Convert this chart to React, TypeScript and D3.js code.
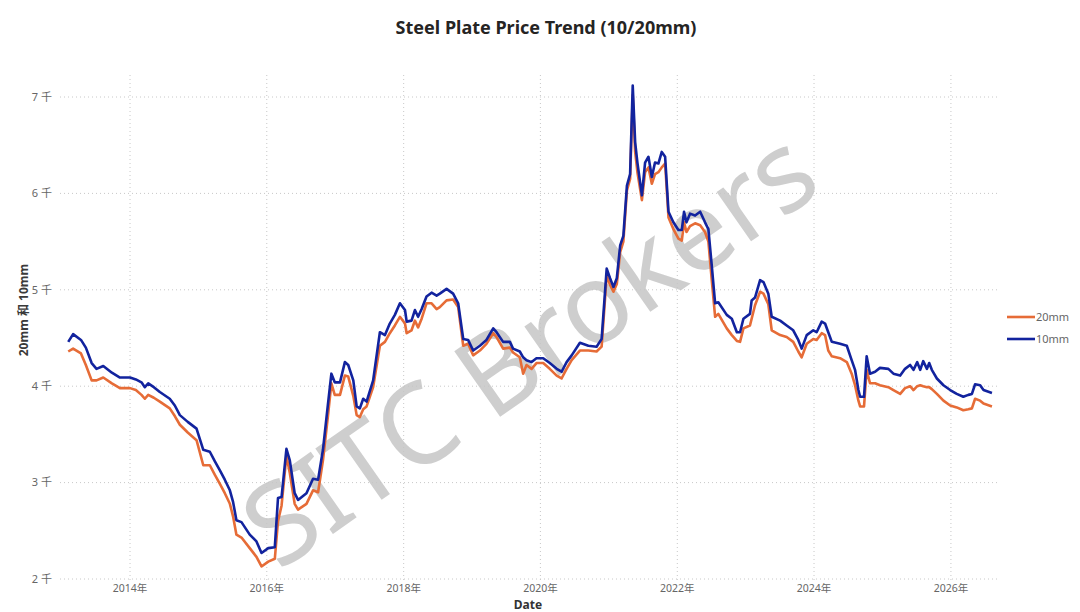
import React, { useRef, useEffect } from 'react';
import * as d3 from 'd3';

const DATES: string[] = [
  '2013-02-05', '2013-03-03', '2013-04-14', '2013-05-10', '2013-06-10', '2013-07-06', '2013-08-11', '2013-09-26', '2013-11-08', '2014-01-01',
  '2014-02-01', '2014-03-03', '2014-03-21', '2014-04-08', '2014-05-08', '2014-06-09', '2014-08-01', '2014-08-28', '2014-09-24', '2014-11-05',
  '2014-12-22', '2015-01-27', '2015-03-03', '2015-03-30', '2015-04-25', '2015-05-22', '2015-06-18', '2015-07-05', '2015-07-23', '2015-08-19',
  '2015-10-02', '2015-11-07', '2015-12-04', '2016-01-09', '2016-02-13', '2016-03-01', '2016-03-20', '2016-04-15', '2016-05-03', '2016-05-29',
  '2016-06-16', '2016-07-31', '2016-09-04', '2016-10-01', '2016-10-27', '2016-11-22', '2016-12-11', '2016-12-29', '2017-01-26', '2017-02-21',
  '2017-03-11', '2017-04-07', '2017-04-25', '2017-05-12', '2017-05-30', '2017-06-17', '2017-07-22', '2017-08-27', '2017-09-23', '2017-10-19',
  '2017-11-15', '2017-12-12', '2018-01-08', '2018-01-17', '2018-02-12', '2018-03-02', '2018-03-19', '2018-04-07', '2018-05-03', '2018-05-30',
  '2018-06-26', '2018-07-13', '2018-08-18', '2018-09-22', '2018-10-19', '2018-11-15', '2018-12-11', '2019-01-07', '2019-02-12', '2019-03-19',
  '2019-04-24', '2019-05-12', '2019-06-16', '2019-07-22', '2019-08-08', '2019-09-13', '2019-10-01', '2019-10-19', '2019-11-15', '2019-12-11',
  '2020-01-16', '2020-02-20', '2020-03-28', '2020-04-23', '2020-05-20', '2020-06-16', '2020-07-30', '2020-09-13', '2020-10-27', '2020-11-23',
  '2020-12-20', '2021-01-07', '2021-01-25', '2021-02-12', '2021-03-02', '2021-03-19', '2021-04-07', '2021-04-24', '2021-05-08', '2021-05-21',
  '2021-06-02', '2021-06-26', '2021-07-13', '2021-07-31', '2021-08-18', '2021-09-04', '2021-09-22', '2021-10-10', '2021-10-28', '2021-11-15',
  '2021-12-11', '2022-01-07', '2022-01-25', '2022-02-06', '2022-02-19', '2022-03-10', '2022-04-06', '2022-05-03', '2022-05-29', '2022-06-16',
  '2022-07-04', '2022-07-22', '2022-08-08', '2022-09-22', '2022-10-19', '2022-11-15', '2022-12-02', '2022-12-20', '2023-01-24', '2023-02-02',
  '2023-02-20', '2023-03-19', '2023-04-06', '2023-05-02', '2023-05-20', '2023-07-04', '2023-08-08', '2023-09-12', '2023-10-09', '2023-10-27',
  '2023-11-23', '2023-12-28', '2024-01-15', '2024-02-11', '2024-02-29', '2024-03-17', '2024-04-05', '2024-05-19', '2024-06-24', '2024-07-20',
  '2024-08-07', '2024-08-25', '2024-09-03', '2024-09-24', '2024-10-08', '2024-10-26', '2024-11-22', '2024-12-18', '2025-02-01', '2025-02-28',
  '2025-04-05', '2025-05-01', '2025-05-28', '2025-06-15', '2025-07-05', '2025-07-21', '2025-08-06', '2025-08-26', '2025-09-07', '2025-09-21',
  '2025-10-18', '2025-11-22', '2025-12-28', '2026-02-01', '2026-03-08', '2026-04-04', '2026-04-23', '2026-05-10', '2026-06-06', '2026-06-24',
  '2026-08-08',
];

const PRICE_20MM: number[] = [
  4360, 4390, 4340, 4220, 4060, 4060, 4090, 4030, 3980, 3980,
  3960, 3910, 3870, 3910, 3880, 3840, 3770, 3690, 3600, 3520,
  3440, 3180, 3180, 3080, 2990, 2890, 2780, 2650, 2460, 2430,
  2320, 2230, 2130, 2180, 2210, 2600, 2760, 3280, 3100, 2780,
  2720, 2780, 2920, 2900, 3230, 3680, 4030, 3910, 3910, 4110,
  4100, 3900, 3700, 3680, 3760, 3790, 3990, 4420, 4460, 4550,
  4630, 4720, 4650, 4550, 4580, 4680, 4610, 4700, 4860, 4860,
  4800, 4820, 4890, 4900, 4820, 4420, 4440, 4320, 4370, 4440,
  4550, 4510, 4390, 4400, 4350, 4300, 4130, 4220, 4180, 4240,
  4240, 4180, 4110, 4080, 4180, 4270, 4370, 4370, 4360, 4410,
  5150, 5050, 4980, 5060, 5390, 5500, 6030, 6150, 7020, 6430,
  6220, 5930, 6220, 6270, 6100, 6200, 6220, 6270, 6310, 5750,
  5630, 5530, 5510, 5700, 5600, 5660, 5690, 5670, 5600, 5500,
  5100, 4720, 4750, 4600, 4530, 4470, 4460, 4600, 4630, 4700,
  4840, 4980, 4960, 4850, 4580, 4530, 4510, 4460, 4360, 4300,
  4440, 4490, 4480, 4550, 4530, 4370, 4310, 4290, 4250, 4130,
  4010, 3850, 3790, 3790, 4170, 4030, 4030, 4010, 3990, 3960,
  3920, 3980, 4000, 3960, 4000, 4010, 4000, 3990, 3990, 3970,
  3920, 3850, 3800, 3780, 3750, 3760, 3770, 3870, 3850, 3820,
  3790,
];

const PRICE_10MM: number[] = [
  4460, 4540, 4480, 4400, 4240, 4180, 4210, 4140, 4090, 4090,
  4070, 4040, 3990, 4030, 3990, 3940, 3870, 3800, 3700, 3630,
  3560, 3340, 3320, 3220, 3130, 3030, 2920, 2800, 2610, 2590,
  2460, 2390, 2270, 2320, 2330, 2840, 2850, 3350, 3230, 2890,
  2820, 2890, 3040, 3030, 3340, 3800, 4130, 4040, 4040, 4250,
  4220, 4060, 3790, 3770, 3870, 3840, 4060, 4560, 4530, 4650,
  4740, 4860, 4790, 4670, 4680, 4790, 4720, 4800, 4930, 4970,
  4940, 4960, 5010, 4960, 4860, 4490, 4480, 4370, 4420, 4480,
  4600, 4560, 4460, 4460, 4390, 4360, 4300, 4270, 4250, 4290,
  4290, 4240, 4180, 4150, 4250, 4320, 4450, 4420, 4410, 4490,
  5220, 5120, 5030, 5120, 5460, 5560, 6080, 6200, 7120, 6530,
  6320, 5980, 6320, 6380, 6170, 6320, 6310, 6430, 6380, 5810,
  5700, 5620, 5620, 5810, 5700, 5790, 5770, 5810, 5700, 5630,
  5250, 4860, 4870, 4740, 4700, 4560, 4560, 4700, 4750, 4890,
  4920, 5100, 5080, 4960, 4720, 4680, 4630, 4580, 4480, 4390,
  4530, 4580, 4560, 4670, 4650, 4560, 4460, 4440, 4420, 4270,
  4170, 3960, 3890, 3890, 4310, 4130, 4150, 4190, 4180, 4130,
  4110, 4180, 4220, 4170, 4250, 4170, 4260, 4180, 4240, 4170,
  4080, 4010, 3960, 3920, 3890, 3910, 3920, 4020, 4010, 3960,
  3930,
];

const SERIES_NAMES = ['20mm', '10mm'];
const SERIES_COLORS = ['#E66C37', '#12239E'];
const Y_TICKS = [2000, 3000, 4000, 5000, 6000, 7000];
const X_TICK_YEARS = [2014, 2016, 2018, 2020, 2022, 2024, 2026];

const FONT = '"Segoe UI", "Noto Sans", "Noto Sans CJK SC", sans-serif';

const App: React.FC = () => {
  const svgRef = useRef<SVGSVGElement>(null);

  useEffect(() => {
    document.body.style.margin = '0';
    if (!svgRef.current) return;

    const W = 1080;
    const H = 612;
    const left = 60;
    const right = 1000;
    const top = 75;
    const bottom = 579;

    const svg = d3.select(svgRef.current);
    svg.selectAll('*').remove();
    svg.attr('width', W).attr('height', H).attr('viewBox', `0 0 ${W} ${H}`);
    svg.append('rect').attr('width', W).attr('height', H).attr('fill', '#fff');

    const parse = d3.timeParse('%Y-%m-%d');
    const dates = DATES.map(d => parse(d)!);

    const x = d3.scaleTime()
      .domain([new Date(2012, 11, 23), new Date(2026, 8, 20)])
      .range([left, right]);
    const y = d3.scaleLinear().domain([2000, 7000]).range([bottom, 97]);

    // Grid
    svg.append('g')
      .selectAll('line')
      .data(Y_TICKS)
      .join('line')
      .attr('x1', left)
      .attr('x2', right)
      .attr('y1', d => y(d))
      .attr('y2', d => y(d))
      .attr('stroke', '#c8c8c8')
      .attr('stroke-width', 1)
      .attr('stroke-dasharray', '1,3');

    svg.append('g')
      .selectAll('line')
      .data(X_TICK_YEARS)
      .join('line')
      .attr('x1', d => x(new Date(d, 0, 1)))
      .attr('x2', d => x(new Date(d, 0, 1)))
      .attr('y1', top)
      .attr('y2', bottom + 3)
      .attr('stroke', '#c8c8c8')
      .attr('stroke-width', 1)
      .attr('stroke-dasharray', '1,3');

    // Watermark
    svg.append('text')
      .attr('transform', 'translate(527,345) rotate(-35)')
      .attr('text-anchor', 'middle')
      .attr('dominant-baseline', 'central')
      .attr('font-family', FONT)
      .attr('font-size', 112)
      .attr('fill', '#c6c6c6')
      .attr('opacity', 0.85)
      .text('SITC Brokers');

    // Lines
    const seriesValues = [PRICE_20MM, PRICE_10MM];
    const line = d3.line<number>()
      .x((_, i) => x(dates[i]))
      .y(d => y(d));

    seriesValues.forEach((vals, k) => {
      svg.append('path')
        .datum(vals)
        .attr('d', line)
        .attr('fill', 'none')
        .attr('stroke', SERIES_COLORS[k])
        .attr('stroke-width', 2.6)
        .attr('stroke-linejoin', 'round');
    });

    // Y axis labels
    svg.append('g')
      .selectAll('text')
      .data(Y_TICKS)
      .join('text')
      .attr('x', 52)
      .attr('y', d => y(d))
      .attr('dy', '0.35em')
      .attr('text-anchor', 'end')
      .attr('font-family', FONT)
      .attr('font-size', 11)
      .attr('fill', '#666')
      .text(d => `${d / 1000} 千`);

    // X axis labels
    svg.append('g')
      .selectAll('text')
      .data(X_TICK_YEARS)
      .join('text')
      .attr('x', d => x(new Date(d, 0, 1)))
      .attr('y', 592)
      .attr('text-anchor', 'middle')
      .attr('font-family', FONT)
      .attr('font-size', 10.5)
      .attr('fill', '#666')
      .text(d => d3.timeFormat('%Y年')(new Date(d, 0, 1)));

    // Axis titles
    svg.append('text')
      .attr('x', 528)
      .attr('y', 609)
      .attr('text-anchor', 'middle')
      .attr('font-family', FONT)
      .attr('font-size', 12)
      .attr('font-weight', 'bold')
      .attr('fill', '#333')
      .text('Date');

    svg.append('text')
      .attr('transform', 'translate(28,310) rotate(-90)')
      .attr('text-anchor', 'middle')
      .attr('font-family', FONT)
      .attr('font-size', 12)
      .attr('font-weight', 'bold')
      .attr('fill', '#3a3a3a')
      .text('20mm 和 10mm');

    // Title
    svg.append('text')
      .attr('x', 546)
      .attr('y', 34)
      .attr('text-anchor', 'middle')
      .attr('font-family', FONT)
      .attr('font-size', 18)
      .attr('font-weight', 'bold')
      .attr('fill', '#252423')
      .text('Steel Plate Price Trend (10/20mm)');

    // Legend
    const legend = svg.append('g').attr('transform', 'translate(1007,317)');
    SERIES_NAMES.forEach((name, k) => {
      const g = legend.append('g').attr('transform', `translate(0,${k * 22})`);
      g.append('line')
        .attr('x1', 0)
        .attr('x2', 28)
        .attr('stroke', SERIES_COLORS[k])
        .attr('stroke-width', 2.6);
      g.append('text')
        .attr('x', 29)
        .attr('dy', '0.35em')
        .attr('font-family', FONT)
        .attr('font-size', 11)
        .attr('fill', '#666')
        .text(name);
    });
  }, []);

  return <svg ref={svgRef} style={{ display: 'block' }} />;
};

export default App;
